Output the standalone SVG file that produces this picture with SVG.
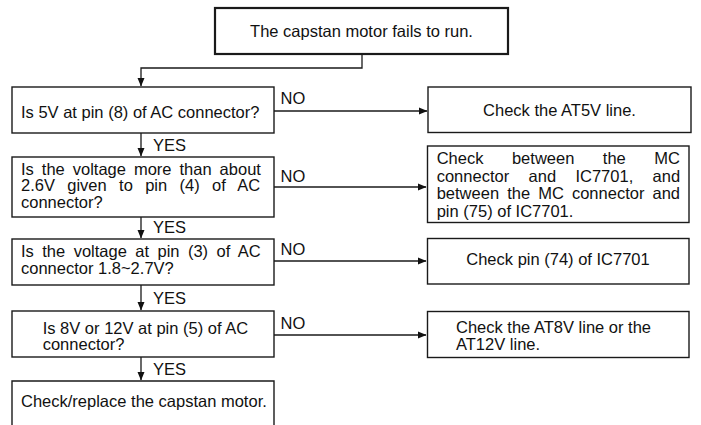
<svg xmlns="http://www.w3.org/2000/svg" width="701" height="425" viewBox="0 0 701 425">
<defs>
<style>
.box{fill:#fff;stroke:#1a1a1a;stroke-width:1.4}
.top{fill:#fff;stroke:#1a1a1a;stroke-width:2.2}
.t{font-family:"Liberation Sans",Arial,sans-serif;font-size:16.5px;fill:#111}
.c{text-anchor:middle}
.ln{fill:none;stroke:#1a1a1a;stroke-width:1.3}
</style>
<marker id="ah" markerWidth="9" markerHeight="9" refX="8" refY="4.5" orient="auto" markerUnits="userSpaceOnUse">
<path d="M0,1 L8.5,4.5 L0,8 Z" fill="#111"/>
</marker>
</defs>
<rect width="701" height="425" fill="#fff"/>
<g id="connectors">
<path class="ln" d="M362,54 V68 H141 V86" marker-end="url(#ah)"/>
<path class="ln" d="M141,133 V156" marker-end="url(#ah)"/>
<path class="ln" d="M141,217 V238" marker-end="url(#ah)"/>
<path class="ln" d="M141,285 V310" marker-end="url(#ah)"/>
<path class="ln" d="M141,357 V380" marker-end="url(#ah)"/>
<path class="ln" d="M274,111 H427" marker-end="url(#ah)"/>
<path class="ln" d="M274,187 H426" marker-end="url(#ah)"/>
<path class="ln" d="M274,261 H426" marker-end="url(#ah)"/>
<path class="ln" d="M274,335 H426" marker-end="url(#ah)"/>
<text class="t" x="153" y="150.5">YES</text>
<text class="t" x="153" y="233">YES</text>
<text class="t" x="153" y="303.5">YES</text>
<text class="t" x="153" y="375">YES</text>
<text class="t" x="280.5" y="103.5">NO</text>
<text class="t" x="280.5" y="181.5">NO</text>
<text class="t" x="280.5" y="255">NO</text>
<text class="t" x="280.5" y="328.5">NO</text>
</g>
<g id="start">
<rect class="top" x="215" y="8" width="293" height="46"/>
<text class="t c" x="361.5" y="36.5">The capstan motor fails to run.</text>
</g>
<g id="q1">
<rect class="box" x="12" y="87" width="262" height="46"/>
<text class="t" x="21" y="118">Is 5V at pin (8) of AC connector?</text>
</g>
<g id="q2">
<rect class="box" x="12" y="157" width="262" height="60"/>
<text class="t" x="21" y="174.5" word-spacing="3.4">Is the voltage more than about</text>
<text class="t" x="21" y="191" word-spacing="7.75">2.6V given to pin (4) of AC</text>
<text class="t" x="21" y="207.5">connector?</text>
</g>
<g id="q3">
<rect class="box" x="12" y="239" width="262" height="46"/>
<text class="t" x="21" y="257" word-spacing="3.85">Is the voltage at pin (3) of AC</text>
<text class="t" x="21" y="274">connector 1.8~2.7V?</text>
</g>
<g id="q4">
<rect class="box" x="12" y="311" width="262" height="46"/>
<text class="t" x="42.7" y="333.5">Is 8V or 12V at pin (5) of AC</text>
<text class="t" x="42.7" y="350">connector?</text>
</g>
<g id="end">
<path class="box" d="M12,430 V381 H274 V430"/>
<text class="t" x="21" y="407">Check/replace the capstan motor.</text>
</g>
<g id="r1">
<rect class="box" x="428" y="87" width="263" height="45.5"/>
<text class="t c" x="559.5" y="115.7">Check the AT5V line.</text>
</g>
<g id="r2">
<rect class="box" x="427.5" y="146" width="261.5" height="76.5"/>
<text class="t" x="436.7" y="164" word-spacing="23.9">Check between the MC</text>
<text class="t" x="436.7" y="181.5" word-spacing="14.8">connector and IC7701, and</text>
<text class="t" x="436.7" y="199" word-spacing="3.5">between the MC connector and</text>
<text class="t" x="436.7" y="216.5">pin (75) of IC7701.</text>
</g>
<g id="r3">
<rect class="box" x="427.5" y="238.5" width="261.5" height="45.5"/>
<text class="t c" x="558" y="265">Check pin (74) of IC7701</text>
</g>
<g id="r4">
<rect class="box" x="427.5" y="311.5" width="261.5" height="46"/>
<text class="t" x="456" y="333.3">Check the AT8V line or the</text>
<text class="t" x="456" y="350">AT12V line.</text>
</g>
</svg>
